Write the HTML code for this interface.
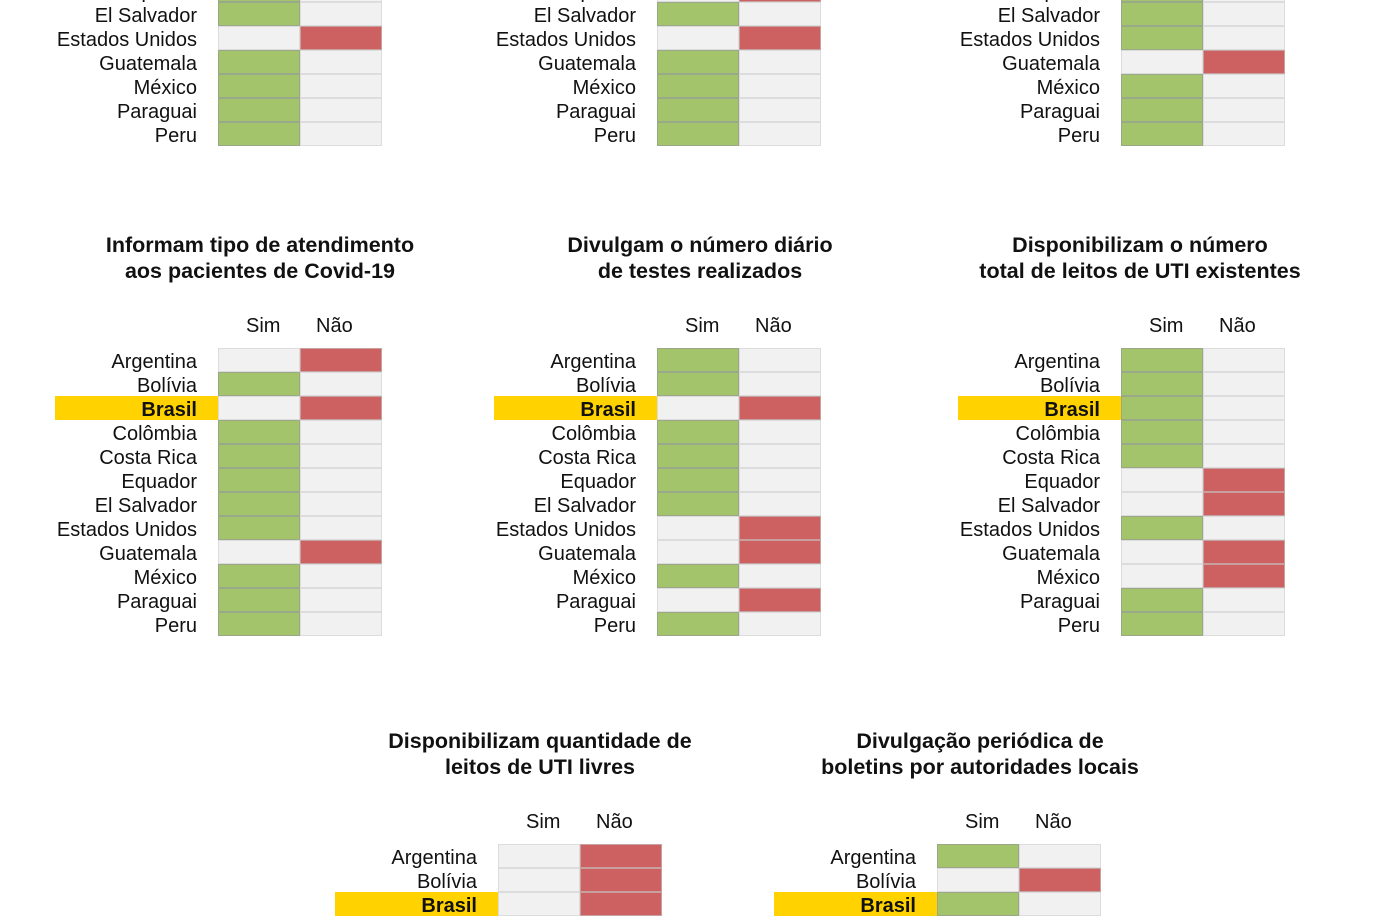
<!DOCTYPE html><html><head><meta charset="utf-8"><style>
body{margin:0;width:1400px;height:900px;overflow:hidden;background:#fff;font-family:"Liberation Sans",sans-serif;color:#111;position:relative}
.p{position:absolute;width:327px}
.r{display:flex;height:24px;line-height:28px}
.l{width:142px;padding-right:21px;text-align:right;font-size:20px;white-space:nowrap;height:24px}
.h{background:#ffd200;font-weight:bold}
.r i{width:82px;height:24px;box-sizing:border-box;border:1px solid #dcdcdc;background:#f1f1f1;display:block}
.r i.g{background:#a3c46b;border-color:#9aa88a}
.r i.n{background:#cd6060;border-color:#c9a0a0}
.t{position:absolute;width:440px;text-align:center;font-weight:bold;font-size:21.5px;line-height:26px}
.hd{position:absolute;font-size:20px}
</style></head><body>

<div class="p" style="left:55px;top:-142px">
<div class="r"><span class="l">Argentina</span><i class="g"></i><i></i></div>
<div class="r"><span class="l">Bolívia</span><i class="g"></i><i></i></div>
<div class="r"><span class="l h">Brasil</span><i class="g"></i><i></i></div>
<div class="r"><span class="l">Colômbia</span><i class="g"></i><i></i></div>
<div class="r"><span class="l">Costa Rica</span><i class="g"></i><i></i></div>
<div class="r"><span class="l">Equador</span><i class="g"></i><i></i></div>
<div class="r"><span class="l">El Salvador</span><i class="g"></i><i></i></div>
<div class="r"><span class="l">Estados Unidos</span><i></i><i class="n"></i></div>
<div class="r"><span class="l">Guatemala</span><i class="g"></i><i></i></div>
<div class="r"><span class="l">México</span><i class="g"></i><i></i></div>
<div class="r"><span class="l">Paraguai</span><i class="g"></i><i></i></div>
<div class="r"><span class="l">Peru</span><i class="g"></i><i></i></div>
</div>
<div class="p" style="left:494px;top:-142px">
<div class="r"><span class="l">Argentina</span><i class="g"></i><i></i></div>
<div class="r"><span class="l">Bolívia</span><i class="g"></i><i></i></div>
<div class="r"><span class="l h">Brasil</span><i class="g"></i><i></i></div>
<div class="r"><span class="l">Colômbia</span><i class="g"></i><i></i></div>
<div class="r"><span class="l">Costa Rica</span><i class="g"></i><i></i></div>
<div class="r"><span class="l">Equador</span><i></i><i class="n"></i></div>
<div class="r"><span class="l">El Salvador</span><i class="g"></i><i></i></div>
<div class="r"><span class="l">Estados Unidos</span><i></i><i class="n"></i></div>
<div class="r"><span class="l">Guatemala</span><i class="g"></i><i></i></div>
<div class="r"><span class="l">México</span><i class="g"></i><i></i></div>
<div class="r"><span class="l">Paraguai</span><i class="g"></i><i></i></div>
<div class="r"><span class="l">Peru</span><i class="g"></i><i></i></div>
</div>
<div class="p" style="left:958px;top:-142px">
<div class="r"><span class="l">Argentina</span><i class="g"></i><i></i></div>
<div class="r"><span class="l">Bolívia</span><i class="g"></i><i></i></div>
<div class="r"><span class="l h">Brasil</span><i class="g"></i><i></i></div>
<div class="r"><span class="l">Colômbia</span><i class="g"></i><i></i></div>
<div class="r"><span class="l">Costa Rica</span><i class="g"></i><i></i></div>
<div class="r"><span class="l">Equador</span><i class="g"></i><i></i></div>
<div class="r"><span class="l">El Salvador</span><i class="g"></i><i></i></div>
<div class="r"><span class="l">Estados Unidos</span><i class="g"></i><i></i></div>
<div class="r"><span class="l">Guatemala</span><i></i><i class="n"></i></div>
<div class="r"><span class="l">México</span><i class="g"></i><i></i></div>
<div class="r"><span class="l">Paraguai</span><i class="g"></i><i></i></div>
<div class="r"><span class="l">Peru</span><i class="g"></i><i></i></div>
</div>

<div class="t" style="left:40px;top:232px">Informam tipo de atendimento<br>aos pacientes de Covid-19</div>
<div class="t" style="left:480px;top:232px">Divulgam o número diário<br>de testes realizados</div>
<div class="t" style="left:920px;top:232px">Disponibilizam o número<br>total de leitos de UTI existentes</div>
<div class="hd" style="left:246px;top:315px">Sim</div><div class="hd" style="left:316px;top:315px">Não</div>
<div class="hd" style="left:685px;top:315px">Sim</div><div class="hd" style="left:755px;top:315px">Não</div>
<div class="hd" style="left:1149px;top:315px">Sim</div><div class="hd" style="left:1219px;top:315px">Não</div>

<div class="p" style="left:55px;top:348px">
<div class="r"><span class="l">Argentina</span><i></i><i class="n"></i></div>
<div class="r"><span class="l">Bolívia</span><i class="g"></i><i></i></div>
<div class="r"><span class="l h">Brasil</span><i></i><i class="n"></i></div>
<div class="r"><span class="l">Colômbia</span><i class="g"></i><i></i></div>
<div class="r"><span class="l">Costa Rica</span><i class="g"></i><i></i></div>
<div class="r"><span class="l">Equador</span><i class="g"></i><i></i></div>
<div class="r"><span class="l">El Salvador</span><i class="g"></i><i></i></div>
<div class="r"><span class="l">Estados Unidos</span><i class="g"></i><i></i></div>
<div class="r"><span class="l">Guatemala</span><i></i><i class="n"></i></div>
<div class="r"><span class="l">México</span><i class="g"></i><i></i></div>
<div class="r"><span class="l">Paraguai</span><i class="g"></i><i></i></div>
<div class="r"><span class="l">Peru</span><i class="g"></i><i></i></div>
</div>
<div class="p" style="left:494px;top:348px">
<div class="r"><span class="l">Argentina</span><i class="g"></i><i></i></div>
<div class="r"><span class="l">Bolívia</span><i class="g"></i><i></i></div>
<div class="r"><span class="l h">Brasil</span><i></i><i class="n"></i></div>
<div class="r"><span class="l">Colômbia</span><i class="g"></i><i></i></div>
<div class="r"><span class="l">Costa Rica</span><i class="g"></i><i></i></div>
<div class="r"><span class="l">Equador</span><i class="g"></i><i></i></div>
<div class="r"><span class="l">El Salvador</span><i class="g"></i><i></i></div>
<div class="r"><span class="l">Estados Unidos</span><i></i><i class="n"></i></div>
<div class="r"><span class="l">Guatemala</span><i></i><i class="n"></i></div>
<div class="r"><span class="l">México</span><i class="g"></i><i></i></div>
<div class="r"><span class="l">Paraguai</span><i></i><i class="n"></i></div>
<div class="r"><span class="l">Peru</span><i class="g"></i><i></i></div>
</div>
<div class="p" style="left:958px;top:348px">
<div class="r"><span class="l">Argentina</span><i class="g"></i><i></i></div>
<div class="r"><span class="l">Bolívia</span><i class="g"></i><i></i></div>
<div class="r"><span class="l h">Brasil</span><i class="g"></i><i></i></div>
<div class="r"><span class="l">Colômbia</span><i class="g"></i><i></i></div>
<div class="r"><span class="l">Costa Rica</span><i class="g"></i><i></i></div>
<div class="r"><span class="l">Equador</span><i></i><i class="n"></i></div>
<div class="r"><span class="l">El Salvador</span><i></i><i class="n"></i></div>
<div class="r"><span class="l">Estados Unidos</span><i class="g"></i><i></i></div>
<div class="r"><span class="l">Guatemala</span><i></i><i class="n"></i></div>
<div class="r"><span class="l">México</span><i></i><i class="n"></i></div>
<div class="r"><span class="l">Paraguai</span><i class="g"></i><i></i></div>
<div class="r"><span class="l">Peru</span><i class="g"></i><i></i></div>
</div>

<div class="t" style="left:320px;top:728px">Disponibilizam quantidade de<br>leitos de UTI livres</div>
<div class="t" style="left:760px;top:728px">Divulgação periódica de<br>boletins por autoridades locais</div>
<div class="hd" style="left:526px;top:811px">Sim</div><div class="hd" style="left:596px;top:811px">Não</div>
<div class="hd" style="left:965px;top:811px">Sim</div><div class="hd" style="left:1035px;top:811px">Não</div>

<div class="p" style="left:335px;top:844px">
<div class="r"><span class="l">Argentina</span><i></i><i class="n"></i></div>
<div class="r"><span class="l">Bolívia</span><i></i><i class="n"></i></div>
<div class="r"><span class="l h">Brasil</span><i></i><i class="n"></i></div>
</div>
<div class="p" style="left:774px;top:844px">
<div class="r"><span class="l">Argentina</span><i class="g"></i><i></i></div>
<div class="r"><span class="l">Bolívia</span><i></i><i class="n"></i></div>
<div class="r"><span class="l h">Brasil</span><i class="g"></i><i></i></div>
</div>
</body></html>
